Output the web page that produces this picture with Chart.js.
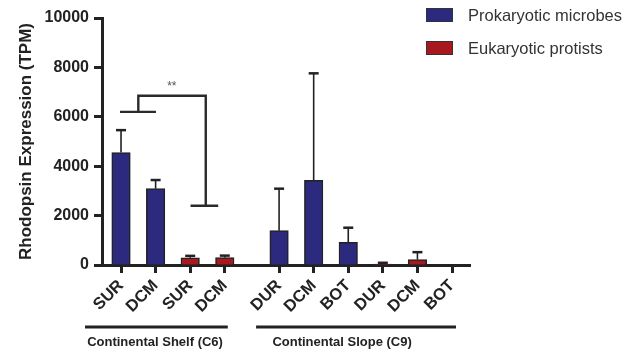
<!DOCTYPE html>
<html>
<head>
<meta charset="utf-8">
<script src="https://cdn.jsdelivr.net/npm/chart.js@4.4.1/dist/chart.umd.min.js"></script>
<style>
  html, body { margin: 0; padding: 0; background: #fff; }
  #wrap { width: 638px; height: 353px; position: relative; }
</style>
</head>
<body>
<div id="wrap"><canvas id="rhodopsin"></canvas></div>
<script>
const categories = ['SUR', 'DCM', 'SUR', 'DCM', 'DUR', 'DCM', 'BOT', 'DUR', 'DCM', 'BOT'];
const sites = ['Continental Shelf (C6)', 'Continental Slope (C9)'];
const siteOf = [0, 0, 0, 0, 1, 1, 1, 1, 1, 1];
const prokaryotic = [4550, 3090, null, null, 1390, 3430, 920, null, null, null];
const prokaryoticErr = [910, 350, null, null, 1700, 4330, 590, null, null, null];
const eukaryotic = [null, null, 290, 300, null, null, null, 40, 220, 0];
const eukaryoticErr = [null, null, 80, 80, null, null, null, 50, 300, 0];
const yTicks = [0, 2000, 4000, 6000, 8000, 10000];

const FONT = '"Liberation Sans", Arial, Helvetica, sans-serif';
const INK = '#222';
const siteGap = 0.57;
const pos = i => i + (siteOf[i] ? siteGap : 0);

function points(values, errs) {
  const out = [];
  values.forEach((v, i) => {
    if (v !== null) out.push({ x: pos(i), y: v, err: errs[i] });
  });
  return out;
}

const errorBars = {
  id: 'errorBars',
  afterDatasetsDraw(chart) {
    const ctx = chart.ctx;
    const y = chart.scales.y;
    ctx.save();
    ctx.strokeStyle = INK;
    chart.data.datasets.forEach((ds, d) => {
      const meta = chart.getDatasetMeta(d);
      meta.data.forEach((el, j) => {
        const p = ds.data[j];
        if (!p.err) return;
        const top = y.getPixelForValue(p.y + p.err);
        ctx.lineWidth = 1.6;
        ctx.beginPath();
        ctx.moveTo(el.x, el.y);
        ctx.lineTo(el.x, top);
        ctx.stroke();
        ctx.lineWidth = 2.5;
        ctx.beginPath();
        ctx.moveTo(el.x - 5, top);
        ctx.lineTo(el.x + 5, top);
        ctx.stroke();
      });
    });
    ctx.restore();
  }
};

const extras = {
  id: 'extras',
  afterDraw(chart) {
    const ctx = chart.ctx;
    const x = chart.scales.x, y = chart.scales.y;
    const px = v => x.getPixelForValue(v), py = v => y.getPixelForValue(v);
    ctx.save();

    // significance bracket
    ctx.strokeStyle = '#2a2a2a';
    ctx.lineWidth = 2.4;
    ctx.beginPath();
    ctx.moveTo(px(-0.03), py(6200)); ctx.lineTo(px(1.01), py(6200));
    ctx.moveTo(px(0.5), py(6200)); ctx.lineTo(px(0.5), py(6850));
    ctx.lineTo(px(2.45), py(6850)); ctx.lineTo(px(2.45), py(2400));
    ctx.moveTo(px(2.01), py(2400)); ctx.lineTo(px(2.81), py(2400));
    ctx.stroke();
    ctx.fillStyle = '#555';
    ctx.font = '12px ' + FONT;
    ctx.textAlign = 'center';
    ctx.textBaseline = 'middle';
    ctx.fillText('**', px(1.47), py(7200));

    // site group labels
    const lineY = 327;
    const t = i => px(pos(i));
    const groups = [
      { from: t(0) - 36, to: t(3) + 3, mid: t(0) + 34 },
      { from: t(4) - 23, to: t(9) + 4, mid: t(4) + 63 }
    ];
    ctx.strokeStyle = INK;
    ctx.lineWidth = 3;
    ctx.fillStyle = INK;
    ctx.font = 'bold 13px ' + FONT;
    groups.forEach((g, k) => {
      ctx.beginPath();
      ctx.moveTo(g.from, lineY); ctx.lineTo(g.to, lineY);
      ctx.stroke();
      ctx.fillText(sites[k], g.mid, 342);
    });

    // legend
    ctx.textAlign = 'left';
    ctx.font = '16.5px ' + FONT;
    chart.data.datasets.forEach((ds, k) => {
      const top = 8 + k * 33;
      ctx.fillStyle = ds.backgroundColor;
      ctx.fillRect(426, top, 27, 14);
      ctx.strokeStyle = '#333';
      ctx.lineWidth = 1;
      ctx.strokeRect(426.5, top + 0.5, 26, 13);
      ctx.fillStyle = '#333';
      ctx.fillText(ds.label, 468, top + 8);
    });
    ctx.restore();
  }
};

new Chart(document.getElementById('rhodopsin'), {
  type: 'bar',
  data: {
    datasets: [
      {
        label: 'Prokaryotic microbes',
        data: points(prokaryotic, prokaryoticErr),
        backgroundColor: '#2b2a7e',
        borderColor: INK,
        borderWidth: 1.5,
        barThickness: 18.5
      },
      {
        label: 'Eukaryotic protists',
        data: points(eukaryotic, eukaryoticErr),
        backgroundColor: '#a8181e',
        borderColor: INK,
        borderWidth: 1.5,
        barThickness: 18.5
      }
    ]
  },
  options: {
    responsive: true,
    maintainAspectRatio: false,
    animation: false,
    layout: { padding: { left: 0, right: 168, top: 18, bottom: 0 } },
    plugins: {
      legend: { display: false },
      tooltip: { enabled: false }
    },
    datasets: { bar: { grouped: false } },
    scales: {
      x: {
        type: 'linear',
        offset: false,
        min: -0.55,
        max: 10.09,
        afterBuildTicks: s => { s.ticks = categories.map((c, i) => ({ value: pos(i) })); },
        afterFit: s => { s.height = 88; },
        ticks: {
          autoSkip: false,
          minRotation: 45,
          maxRotation: 45,
          padding: 3,
          color: INK,
          font: { family: FONT, size: 16.5, weight: 'bold' },
          callback: (v, i) => categories[i]
        },
        grid: {
          offset: false,
          drawOnChartArea: false,
          tickLength: 8,
          tickWidth: 3,
          tickColor: INK
        },
        border: { color: INK, width: 3 }
      },
      y: {
        min: 0,
        max: 10000,
        afterBuildTicks: s => { s.ticks = yTicks.map(v => ({ value: v })); },
        afterFit: s => { s.width = 102; },
        ticks: {
          padding: 5,
          color: INK,
          font: { family: FONT, size: 16, weight: 'bold' },
          callback: v => String(v)
        },
        grid: {
          drawOnChartArea: false,
          tickLength: 8,
          tickWidth: 3,
          tickColor: INK
        },
        border: { color: INK, width: 3 },
        title: {
          display: true,
          text: 'Rhodopsin Expression (TPM)',
          color: INK,
          padding: { top: 16, bottom: 0 },
          font: { family: FONT, size: 17, weight: 'bold' }
        }
      }
    }
  },
  plugins: [errorBars, extras]
});
</script>
</body>
</html>
